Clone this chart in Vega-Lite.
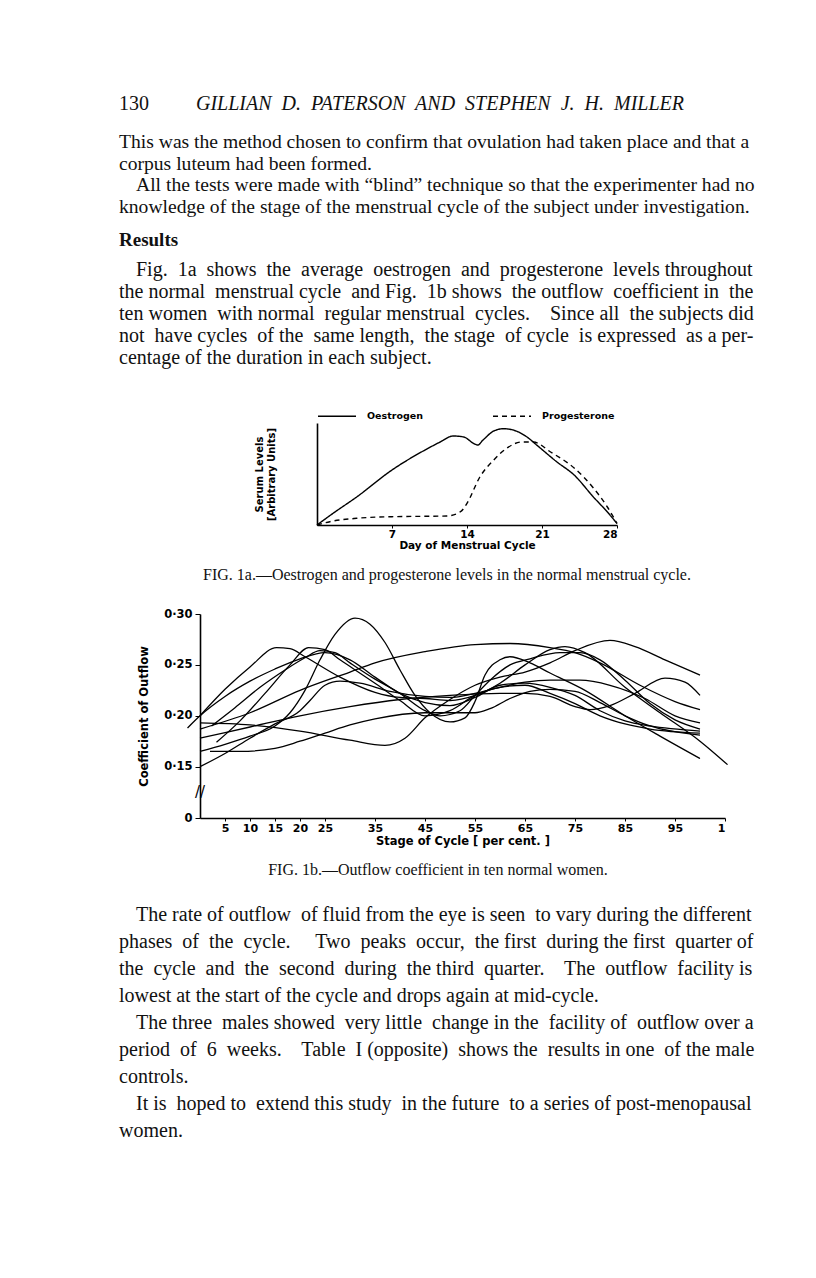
{
  "$schema": "https://vega.github.io/schema/vega-lite/v6.json",
  "width": 816,
  "height": 1278,
  "autosize": {"type": "none"},
  "padding": 0,
  "background": "white",
  "config": {
    "view": {"stroke": null},
    "axis": {"grid": false, "domainColor": "black", "tickColor": "black", "labelColor": "black", "titleColor": "black"}
  },
  "resolve": {"scale": {"x": "independent", "y": "independent"}},
  "layer": [
    {
      "data": {"values": [{"line": 0, "text": "130"}]},
      "mark": {"type": "text", "align": "left", "baseline": "middle", "font": "Liberation Serif", "fontSize": 20, "color": "#111"},
      "encoding": {
        "x": {"datum": 0, "type": "quantitative", "scale": {"domain": [0, 1], "range": [119, 120]}, "axis": null},
        "y": {"field": "line", "type": "quantitative", "scale": {"domain": [0, 1], "range": [104, 125]}, "axis": null},
        "text": {"field": "text"}
      }
    },
    {
      "data": {"values": [{"line": 0, "text": "GILLIAN\u00a0 D.\u00a0 PATERSON\u00a0 AND\u00a0 STEPHEN\u00a0 J.\u00a0 H.\u00a0 MILLER"}]},
      "mark": {"type": "text", "align": "left", "baseline": "middle", "font": "Liberation Serif", "fontStyle": "italic", "fontSize": 20, "color": "#111"},
      "encoding": {
        "x": {"datum": 0, "type": "quantitative", "scale": {"domain": [0, 1], "range": [196, 197]}, "axis": null},
        "y": {"field": "line", "type": "quantitative", "scale": {"domain": [0, 1], "range": [104, 125]}, "axis": null},
        "text": {"field": "text"}
      }
    },
    {
      "data": {"values": [
        {"line": 0, "indent": 0, "text": "This was the method chosen to confirm that ovulation had taken place and that a"},
        {"line": 1, "indent": 0, "text": "corpus luteum had been formed."},
        {"line": 2, "indent": 1, "text": "All the tests were made with “blind” technique so that the experimenter had no"},
        {"line": 3, "indent": 0, "text": "knowledge of the stage of the menstrual cycle of the subject under investigation."}
      ]},
      "mark": {"type": "text", "align": "left", "baseline": "middle", "font": "Liberation Serif", "fontSize": 19.6, "color": "#111"},
      "encoding": {
        "x": {"field": "indent", "type": "quantitative", "scale": {"domain": [0, 1], "range": [119, 136]}, "axis": null},
        "y": {"field": "line", "type": "quantitative", "scale": {"domain": [0, 3], "range": [142, 206.5]}, "axis": null},
        "text": {"field": "text"}
      }
    },
    {
      "data": {"values": [{"line": 0, "text": "Results"}]},
      "mark": {"type": "text", "align": "left", "baseline": "middle", "font": "Liberation Serif", "fontWeight": "bold", "fontSize": 19, "color": "#111"},
      "encoding": {
        "x": {"datum": 0, "type": "quantitative", "scale": {"domain": [0, 1], "range": [119, 120]}, "axis": null},
        "y": {"field": "line", "type": "quantitative", "scale": {"domain": [0, 1], "range": [240, 261]}, "axis": null},
        "text": {"field": "text"}
      }
    },
    {
      "data": {"values": [
        {"line": 0, "indent": 1, "text": "Fig.\u00a0 1a\u00a0 shows\u00a0 the\u00a0 average\u00a0 oestrogen\u00a0 and\u00a0 progesterone\u00a0 levels throughout"},
        {"line": 1, "indent": 0, "text": "the normal\u00a0 menstrual cycle\u00a0 and Fig.\u00a0 1b shows\u00a0 the outflow\u00a0 coefficient in\u00a0 the"},
        {"line": 2, "indent": 0, "text": "ten women\u00a0 with normal\u00a0 regular menstrual\u00a0 cycles.\u00a0\u00a0\u00a0 Since all\u00a0 the subjects did"},
        {"line": 3, "indent": 0, "text": "not\u00a0 have cycles\u00a0 of the\u00a0 same length,\u00a0 the stage\u00a0 of cycle\u00a0 is expressed\u00a0 as a per-"},
        {"line": 4, "indent": 0, "text": "centage of the duration in each subject."}
      ]},
      "mark": {"type": "text", "align": "left", "baseline": "middle", "font": "Liberation Serif", "fontSize": 20, "color": "#111"},
      "encoding": {
        "x": {"field": "indent", "type": "quantitative", "scale": {"domain": [0, 1], "range": [119, 136]}, "axis": null},
        "y": {"field": "line", "type": "quantitative", "scale": {"domain": [0, 4], "range": [270, 358]}, "axis": null},
        "text": {"field": "text"}
      }
    },
    {
      "data": {"values": [
        {"hormone": "Oestrogen", "day": 0, "level": 0},
        {"hormone": "Oestrogen", "day": 1.5, "level": 11.7},
        {"hormone": "Oestrogen", "day": 3.7, "level": 28},
        {"hormone": "Oestrogen", "day": 7, "level": 55},
        {"hormone": "Oestrogen", "day": 10.2, "level": 75.7},
        {"hormone": "Oestrogen", "day": 11.5, "level": 83},
        {"hormone": "Oestrogen", "day": 12.7, "level": 89},
        {"hormone": "Oestrogen", "day": 13.7, "level": 88},
        {"hormone": "Oestrogen", "day": 14.6, "level": 81.7},
        {"hormone": "Oestrogen", "day": 15, "level": 80},
        {"hormone": "Oestrogen", "day": 15.5, "level": 85},
        {"hormone": "Oestrogen", "day": 16.5, "level": 94},
        {"hormone": "Oestrogen", "day": 17.4, "level": 96.3},
        {"hormone": "Oestrogen", "day": 18.3, "level": 95},
        {"hormone": "Oestrogen", "day": 19.6, "level": 88},
        {"hormone": "Oestrogen", "day": 20.5, "level": 80},
        {"hormone": "Oestrogen", "day": 22.4, "level": 63},
        {"hormone": "Oestrogen", "day": 24, "level": 50},
        {"hormone": "Oestrogen", "day": 25.8, "level": 28},
        {"hormone": "Oestrogen", "day": 27.1, "level": 13},
        {"hormone": "Oestrogen", "day": 28, "level": 1.5},
        {"hormone": "Progesterone", "day": 0, "level": 0},
        {"hormone": "Progesterone", "day": 1.2, "level": 3.3},
        {"hormone": "Progesterone", "day": 3.7, "level": 6.7},
        {"hormone": "Progesterone", "day": 7, "level": 8.3},
        {"hormone": "Progesterone", "day": 12.1, "level": 9},
        {"hormone": "Progesterone", "day": 13.4, "level": 13.3},
        {"hormone": "Progesterone", "day": 14, "level": 21.7},
        {"hormone": "Progesterone", "day": 15.2, "level": 48},
        {"hormone": "Progesterone", "day": 16.5, "level": 65},
        {"hormone": "Progesterone", "day": 17.7, "level": 76.7},
        {"hormone": "Progesterone", "day": 19.1, "level": 83},
        {"hormone": "Progesterone", "day": 20.2, "level": 83},
        {"hormone": "Progesterone", "day": 21.8, "level": 73},
        {"hormone": "Progesterone", "day": 24, "level": 57},
        {"hormone": "Progesterone", "day": 25.8, "level": 37},
        {"hormone": "Progesterone", "day": 27.1, "level": 18},
        {"hormone": "Progesterone", "day": 28, "level": 1.5}
      ]},
      "mark": {"type": "line", "interpolate": "monotone", "color": "black", "strokeWidth": 1.4, "clip": false},
      "encoding": {
        "x": {"field": "day", "type": "quantitative",
              "scale": {"domain": [0, 28], "range": [317, 617], "nice": false, "zero": false},
              "axis": {"orient": "bottom", "offset": -753, "values": [7, 14, 21, 28], "title": "Day  of  Menstrual  Cycle",
                       "labelFont": "DejaVu Sans", "labelFontWeight": "bold", "labelFontSize": 10.5, "labelPadding": 1,
                       "titleFont": "DejaVu Sans", "titleFontWeight": "bold", "titleFontSize": 10.5, "titlePadding": 1,
                       "tickSize": 3, "domainWidth": 1.6}},
        "y": {"field": "level", "type": "quantitative",
              "scale": {"domain": [0, 102], "range": [525, 423], "nice": false},
              "axis": {"orient": "left", "offset": -317, "ticks": false, "labels": false,
                       "title": ["Serum  Levels", "[Arbitrary  Units]"],
                       "titleFont": "DejaVu Sans", "titleFontWeight": "bold", "titleFontSize": 10, "titlePadding": 41,
                       "domainWidth": 1.6}},
        "strokeDash": {"field": "hormone", "type": "nominal",
                       "scale": {"domain": ["Oestrogen", "Progesterone"], "range": [[1, 0], [5, 4]]},
                       "legend": {"orient": "none", "legendX": 317, "legendY": 396, "direction": "horizontal", "title": null,
                                  "symbolType": "stroke", "symbolSize": 1444, "symbolStrokeWidth": 1.3, "symbolStrokeColor": "black",
                                  "labelFont": "DejaVu Sans", "labelFontWeight": "bold", "labelFontSize": 9.5, "labelColor": "black",
                                  "labelOffset": 10, "columnPadding": 67}}
      }
    },
    {
      "data": {"values": [{"line": 0, "text": "FIG. 1a.—Oestrogen and progesterone levels in the normal menstrual cycle."}]},
      "mark": {"type": "text", "align": "center", "baseline": "middle", "font": "Liberation Serif", "fontSize": 16, "color": "#111"},
      "encoding": {
        "x": {"datum": 0, "type": "quantitative", "scale": {"domain": [0, 1], "range": [447, 448]}, "axis": null},
        "y": {"field": "line", "type": "quantitative", "scale": {"domain": [0, 1], "range": [575, 595]}, "axis": null},
        "text": {"field": "text"}
      }
    },
    {
      "layer": [
        {
          "data": {"values": [
            {"w": 1, "x": 0, "c": 0.200}, {"w": 1, "x": 5, "c": 0.226}, {"w": 1, "x": 10, "c": 0.248}, {"w": 1, "x": 15.3, "c": 0.267}, {"w": 1, "x": 18, "c": 0.266}, {"w": 1, "x": 21, "c": 0.258}, {"w": 1, "x": 28, "c": 0.238}, {"w": 1, "x": 35, "c": 0.223}, {"w": 1, "x": 40, "c": 0.218}, {"w": 1, "x": 45, "c": 0.217}, {"w": 1, "x": 50, "c": 0.215}, {"w": 1, "x": 55, "c": 0.220}, {"w": 1, "x": 60, "c": 0.232}, {"w": 1, "x": 65, "c": 0.250}, {"w": 1, "x": 70, "c": 0.265}, {"w": 1, "x": 73, "c": 0.268}, {"w": 1, "x": 77, "c": 0.262}, {"w": 1, "x": 85, "c": 0.228}, {"w": 1, "x": 92, "c": 0.203}, {"w": 1, "x": 100, "c": 0.175}, {"w": 1, "x": 105.5, "c": 0.152},
            {"w": 2, "x": -2.5, "c": 0.188}, {"w": 2, "x": 0, "c": 0.200}, {"w": 2, "x": 5, "c": 0.219}, {"w": 2, "x": 10, "c": 0.234}, {"w": 2, "x": 15, "c": 0.246}, {"w": 2, "x": 20, "c": 0.256}, {"w": 2, "x": 25, "c": 0.262}, {"w": 2, "x": 30, "c": 0.255}, {"w": 2, "x": 35, "c": 0.238}, {"w": 2, "x": 40, "c": 0.222}, {"w": 2, "x": 45, "c": 0.213}, {"w": 2, "x": 50, "c": 0.210}, {"w": 2, "x": 55, "c": 0.218}, {"w": 2, "x": 60, "c": 0.230}, {"w": 2, "x": 65, "c": 0.232}, {"w": 2, "x": 70, "c": 0.228}, {"w": 2, "x": 75, "c": 0.220}, {"w": 2, "x": 80, "c": 0.205}, {"w": 2, "x": 85, "c": 0.195}, {"w": 2, "x": 90, "c": 0.190}, {"w": 2, "x": 100, "c": 0.185},
            {"w": 3, "x": 0, "c": 0.193}, {"w": 3, "x": 10, "c": 0.191}, {"w": 3, "x": 20, "c": 0.185}, {"w": 3, "x": 30, "c": 0.176}, {"w": 3, "x": 37, "c": 0.171}, {"w": 3, "x": 41, "c": 0.178}, {"w": 3, "x": 45, "c": 0.198}, {"w": 3, "x": 50, "c": 0.216}, {"w": 3, "x": 55, "c": 0.230}, {"w": 3, "x": 60, "c": 0.238}, {"w": 3, "x": 65, "c": 0.243}, {"w": 3, "x": 70, "c": 0.252}, {"w": 3, "x": 75, "c": 0.264}, {"w": 3, "x": 82, "c": 0.274}, {"w": 3, "x": 87, "c": 0.268}, {"w": 3, "x": 93, "c": 0.255}, {"w": 3, "x": 100, "c": 0.240},
            {"w": 4, "x": 2.3, "c": 0.190}, {"w": 4, "x": 7, "c": 0.208}, {"w": 4, "x": 12, "c": 0.228}, {"w": 4, "x": 17, "c": 0.245}, {"w": 4, "x": 21, "c": 0.257}, {"w": 4, "x": 24, "c": 0.264}, {"w": 4, "x": 27, "c": 0.262}, {"w": 4, "x": 30, "c": 0.252}, {"w": 4, "x": 35, "c": 0.236}, {"w": 4, "x": 40, "c": 0.222}, {"w": 4, "x": 45, "c": 0.205}, {"w": 4, "x": 48, "c": 0.200}, {"w": 4, "x": 52, "c": 0.205}, {"w": 4, "x": 55, "c": 0.220}, {"w": 4, "x": 58, "c": 0.235}, {"w": 4, "x": 62, "c": 0.250}, {"w": 4, "x": 66, "c": 0.256}, {"w": 4, "x": 72, "c": 0.262}, {"w": 4, "x": 76, "c": 0.262}, {"w": 4, "x": 80, "c": 0.255}, {"w": 4, "x": 85, "c": 0.235}, {"w": 4, "x": 90, "c": 0.212}, {"w": 4, "x": 95, "c": 0.196}, {"w": 4, "x": 100, "c": 0.187},
            {"w": 5, "x": 0, "c": 0.187}, {"w": 5, "x": 10, "c": 0.203}, {"w": 5, "x": 20, "c": 0.225}, {"w": 5, "x": 30, "c": 0.243}, {"w": 5, "x": 35, "c": 0.252}, {"w": 5, "x": 45, "c": 0.263}, {"w": 5, "x": 55, "c": 0.270}, {"w": 5, "x": 62, "c": 0.271}, {"w": 5, "x": 70, "c": 0.267}, {"w": 5, "x": 75, "c": 0.262}, {"w": 5, "x": 80, "c": 0.252}, {"w": 5, "x": 88, "c": 0.230}, {"w": 5, "x": 95, "c": 0.214}, {"w": 5, "x": 100, "c": 0.206},
            {"w": 6, "x": 0, "c": 0.178}, {"w": 6, "x": 10, "c": 0.189}, {"w": 6, "x": 20, "c": 0.200}, {"w": 6, "x": 30, "c": 0.209}, {"w": 6, "x": 40, "c": 0.216}, {"w": 6, "x": 50, "c": 0.220}, {"w": 6, "x": 60, "c": 0.222}, {"w": 6, "x": 65, "c": 0.222}, {"w": 6, "x": 70, "c": 0.219}, {"w": 6, "x": 75, "c": 0.209}, {"w": 6, "x": 78, "c": 0.206}, {"w": 6, "x": 82, "c": 0.210}, {"w": 6, "x": 87, "c": 0.222}, {"w": 6, "x": 93, "c": 0.237}, {"w": 6, "x": 97, "c": 0.233}, {"w": 6, "x": 100, "c": 0.220},
            {"w": 7, "x": 3.3, "c": 0.174}, {"w": 7, "x": 8, "c": 0.195}, {"w": 7, "x": 13, "c": 0.222}, {"w": 7, "x": 18, "c": 0.250}, {"w": 7, "x": 21.7, "c": 0.267}, {"w": 7, "x": 25, "c": 0.265}, {"w": 7, "x": 28, "c": 0.255}, {"w": 7, "x": 35, "c": 0.232}, {"w": 7, "x": 40, "c": 0.215}, {"w": 7, "x": 45, "c": 0.200}, {"w": 7, "x": 50, "c": 0.205}, {"w": 7, "x": 55, "c": 0.220}, {"w": 7, "x": 60, "c": 0.228}, {"w": 7, "x": 65, "c": 0.230}, {"w": 7, "x": 70, "c": 0.222}, {"w": 7, "x": 75, "c": 0.212}, {"w": 7, "x": 80, "c": 0.200}, {"w": 7, "x": 85, "c": 0.192}, {"w": 7, "x": 90, "c": 0.187}, {"w": 7, "x": 100, "c": 0.183},
            {"w": 8, "x": 0, "c": 0.165}, {"w": 8, "x": 5, "c": 0.172}, {"w": 8, "x": 10, "c": 0.180}, {"w": 8, "x": 15, "c": 0.190}, {"w": 8, "x": 18, "c": 0.203}, {"w": 8, "x": 21, "c": 0.225}, {"w": 8, "x": 24, "c": 0.255}, {"w": 8, "x": 27, "c": 0.280}, {"w": 8, "x": 31, "c": 0.296}, {"w": 8, "x": 34, "c": 0.290}, {"w": 8, "x": 37, "c": 0.272}, {"w": 8, "x": 40, "c": 0.245}, {"w": 8, "x": 43, "c": 0.220}, {"w": 8, "x": 46, "c": 0.203}, {"w": 8, "x": 50, "c": 0.194}, {"w": 8, "x": 53, "c": 0.198}, {"w": 8, "x": 55, "c": 0.214}, {"w": 8, "x": 57, "c": 0.240}, {"w": 8, "x": 60, "c": 0.255}, {"w": 8, "x": 62, "c": 0.258}, {"w": 8, "x": 66, "c": 0.252}, {"w": 8, "x": 70, "c": 0.242}, {"w": 8, "x": 77, "c": 0.225}, {"w": 8, "x": 85, "c": 0.200}, {"w": 8, "x": 92, "c": 0.180}, {"w": 8, "x": 100, "c": 0.158},
            {"w": 9, "x": 2, "c": 0.165}, {"w": 9, "x": 8, "c": 0.165}, {"w": 9, "x": 15, "c": 0.168}, {"w": 9, "x": 20, "c": 0.175}, {"w": 9, "x": 25, "c": 0.183}, {"w": 9, "x": 30, "c": 0.191}, {"w": 9, "x": 35, "c": 0.197}, {"w": 9, "x": 45, "c": 0.203}, {"w": 9, "x": 55, "c": 0.203}, {"w": 9, "x": 58, "c": 0.207}, {"w": 9, "x": 62, "c": 0.217}, {"w": 9, "x": 66, "c": 0.224}, {"w": 9, "x": 70, "c": 0.226}, {"w": 9, "x": 75, "c": 0.224}, {"w": 9, "x": 80, "c": 0.213}, {"w": 9, "x": 85, "c": 0.200}, {"w": 9, "x": 90, "c": 0.190}, {"w": 9, "x": 100, "c": 0.181},
            {"w": 10, "x": 0, "c": 0.150}, {"w": 10, "x": 5, "c": 0.163}, {"w": 10, "x": 10, "c": 0.178}, {"w": 10, "x": 15, "c": 0.192}, {"w": 10, "x": 20, "c": 0.205}, {"w": 10, "x": 22, "c": 0.215}, {"w": 10, "x": 25, "c": 0.230}, {"w": 10, "x": 28, "c": 0.234}, {"w": 10, "x": 32, "c": 0.232}, {"w": 10, "x": 38, "c": 0.224}, {"w": 10, "x": 45, "c": 0.219}, {"w": 10, "x": 50, "c": 0.218}, {"w": 10, "x": 55, "c": 0.222}, {"w": 10, "x": 60, "c": 0.228}, {"w": 10, "x": 65, "c": 0.233}, {"w": 10, "x": 70, "c": 0.235}, {"w": 10, "x": 76, "c": 0.235}, {"w": 10, "x": 82, "c": 0.230}, {"w": 10, "x": 89, "c": 0.217}, {"w": 10, "x": 95, "c": 0.200}, {"w": 10, "x": 100, "c": 0.193}
          ]},
          "mark": {"type": "line", "interpolate": "monotone", "color": "black", "strokeWidth": 1.3, "clip": false},
          "encoding": {
            "x": {"field": "x", "type": "quantitative",
                  "scale": {"domain": [0, 105], "range": [200, 725], "nice": false, "zero": false},
                  "axis": {"orient": "bottom", "offset": -460, "values": [5, 10, 15, 20, 25, 35, 45, 55, 65, 75, 85, 95, 105],
                           "labelExpr": "datum.value == 105 ? '1' : datum.label",
                           "title": "Stage  of  Cycle  [  per  cent. ]",
                           "labelFont": "DejaVu Sans", "labelFontWeight": "bold", "labelFontSize": 11, "labelPadding": 1,
                           "titleFont": "DejaVu Sans", "titleFontWeight": "bold", "titleFontSize": 11.5, "titlePadding": 2,
                           "tickSize": 3, "domainWidth": 1.6}},
            "y": {"field": "c", "type": "quantitative",
                  "scale": {"domain": [0.0996, 0.30], "range": [818, 614], "nice": false, "zero": false},
                  "axis": {"orient": "left", "offset": -200, "values": [0.0996, 0.15, 0.2, 0.25, 0.3],
                           "labelExpr": "datum.value < 0.12 ? '0' : replace(format(datum.value, '.2f'), '.', '·')",
                           "title": "Coefficient  of  Outflow",
                           "labelFont": "DejaVu Sans", "labelFontWeight": "bold", "labelFontSize": 11.5, "labelPadding": 3,
                           "titleFont": "DejaVu Sans", "titleFontWeight": "bold", "titleFontSize": 11.5, "titlePadding": 14,
                           "tickSize": 5, "domainWidth": 1.6}},
            "detail": {"field": "w", "type": "nominal"}
          }
        },
        {
          "data": {"values": [{"mark": "//"}]},
          "mark": {"type": "text", "align": "center", "baseline": "middle", "font": "DejaVu Sans", "fontSize": 15, "color": "black", "clip": false},
          "encoding": {
            "x": {"datum": 0, "type": "quantitative"},
            "y": {"datum": 0.125, "type": "quantitative"},
            "text": {"field": "mark"}
          }
        }
      ]
    },
    {
      "data": {"values": [{"line": 0, "text": "FIG. 1b.—Outflow coefficient in ten normal women."}]},
      "mark": {"type": "text", "align": "center", "baseline": "middle", "font": "Liberation Serif", "fontSize": 16, "color": "#111"},
      "encoding": {
        "x": {"datum": 0, "type": "quantitative", "scale": {"domain": [0, 1], "range": [438, 439]}, "axis": null},
        "y": {"field": "line", "type": "quantitative", "scale": {"domain": [0, 1], "range": [870, 890]}, "axis": null},
        "text": {"field": "text"}
      }
    },
    {
      "data": {"values": [
        {"line": 0, "indent": 1, "text": "The rate of outflow\u00a0 of fluid from the eye is seen\u00a0 to vary during the different"},
        {"line": 1, "indent": 0, "text": "phases\u00a0 of\u00a0 the\u00a0 cycle.\u00a0\u00a0\u00a0\u00a0 Two\u00a0 peaks\u00a0 occur,\u00a0 the first\u00a0 during the first\u00a0 quarter of"},
        {"line": 2, "indent": 0, "text": "the\u00a0 cycle\u00a0 and\u00a0 the\u00a0 second\u00a0 during\u00a0 the third\u00a0 quarter.\u00a0\u00a0\u00a0 The\u00a0 outflow\u00a0 facility is"},
        {"line": 3, "indent": 0, "text": "lowest at the start of the cycle and drops again at mid-cycle."},
        {"line": 4, "indent": 1, "text": "The three\u00a0 males showed\u00a0 very little\u00a0 change in the\u00a0 facility of\u00a0 outflow over a"},
        {"line": 5, "indent": 0, "text": "period\u00a0 of\u00a0 6\u00a0 weeks.\u00a0\u00a0\u00a0 Table\u00a0 I (opposite)\u00a0 shows the\u00a0 results in one\u00a0 of the male"},
        {"line": 6, "indent": 0, "text": "controls."},
        {"line": 7, "indent": 1, "text": "It is\u00a0 hoped to\u00a0 extend this study\u00a0 in the future\u00a0 to a series of post-menopausal"},
        {"line": 8, "indent": 0, "text": "women."}
      ]},
      "mark": {"type": "text", "align": "left", "baseline": "middle", "font": "Liberation Serif", "fontSize": 20, "color": "#111"},
      "encoding": {
        "x": {"field": "indent", "type": "quantitative", "scale": {"domain": [0, 1], "range": [119, 136]}, "axis": null},
        "y": {"field": "line", "type": "quantitative", "scale": {"domain": [0, 8], "range": [915, 1131]}, "axis": null},
        "text": {"field": "text"}
      }
    }
  ]
}
